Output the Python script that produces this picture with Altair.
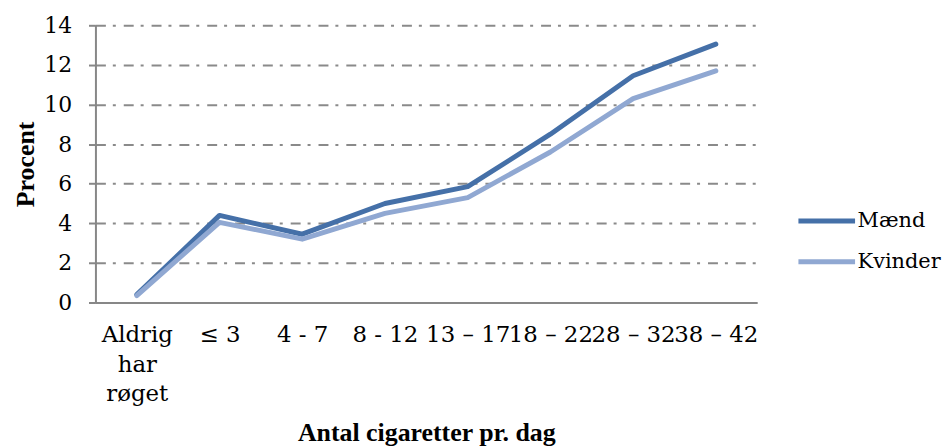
import altair as alt
import pandas as pd

categories = ["Aldrig\nhar\nrøget", "≤ 3", "4 - 7", "8 - 12", "13 – 17", "18 – 22", "28 – 32", "38 – 42"]
maend = [0.4, 4.4, 3.45, 5.0, 5.85, 8.5, 11.45, 13.05]
kvinder = [0.35, 4.05, 3.2, 4.5, 5.3, 7.6, 10.3, 11.7]
series = ["Mænd", "Kvinder"]
colors = ["#4570A8", "#90A8D2"]

rows = []
for name, vals in zip(series, [maend, kvinder]):
    for c, v in zip(categories, vals):
        rows.append({"kategori": c, "serie": name, "procent": v})
df = pd.DataFrame(rows)

FONT = "Liberation Serif"
LABEL_FONT = "DejaVu Serif"

chart = alt.Chart(df).mark_line(strokeWidth=5, strokeCap="round", strokeJoin="round").encode(
    x=alt.X(
        "kategori:N",
        sort=categories,
        scale=alt.Scale(type="point", padding=0.5),
        axis=alt.Axis(
            title="Antal cigaretter pr. dag",
            labelExpr="split(datum.label, '\\n')",
            labelAngle=0,
            labelOverlap=False,
            labelBound=False,
            labelFont=LABEL_FONT,
            labelFontSize=23,
            labelColor="#000000",
            labelLineHeight=30,
            labelPadding=21,
            labelBaseline="top",
            ticks=False,
            domainColor="#878787",
            domainWidth=2,
            titleFont=FONT,
            titleFontSize=26,
            titleFontWeight="bold",
            titleColor="#000000",
            titlePadding=14,
        ),
    ),
    y=alt.Y(
        "procent:Q",
        scale=alt.Scale(domain=[0, 14], nice=False),
        axis=alt.Axis(
            title="Procent",
            values=[0, 2, 4, 6, 8, 10, 12, 14],
            labelFont=LABEL_FONT,
            labelFontSize=22,
            labelColor="#000000",
            labelPadding=17,
            tickSize=7,
            tickColor="#878787",
            tickWidth=2,
            domainColor="#878787",
            domainWidth=2,
            gridColor="#8a8a8a",
            gridWidth=2,
            gridDash=[10, 7, 3, 8],
            titleFont=FONT,
            titleFontSize=26,
            titleFontWeight="bold",
            titleColor="#000000",
            titlePadding=5,
        ),
    ),
    color=alt.Color(
        "serie:N",
        sort=series,
        scale=alt.Scale(domain=series, range=colors),
        legend=alt.Legend(
            title=None,
            orient="none",
            legendX=705,
            legendY=166,
            symbolType="stroke",
            symbolSize=3249,
            symbolStrokeWidth=5,
            labelFont=LABEL_FONT,
            labelFontSize=21,
            labelColor="#000000",
            labelOffset=0,
            rowPadding=-10,
        ),
    ),
).properties(
    width=666,
    height=279,
    autosize=alt.AutoSizeParams(type="none"),
    padding={"left": 88, "top": 16, "right": 186, "bottom": 144},
).configure_view(stroke=None)

chart.save("out.html", embed_options={"renderer": "svg", "actions": False})
